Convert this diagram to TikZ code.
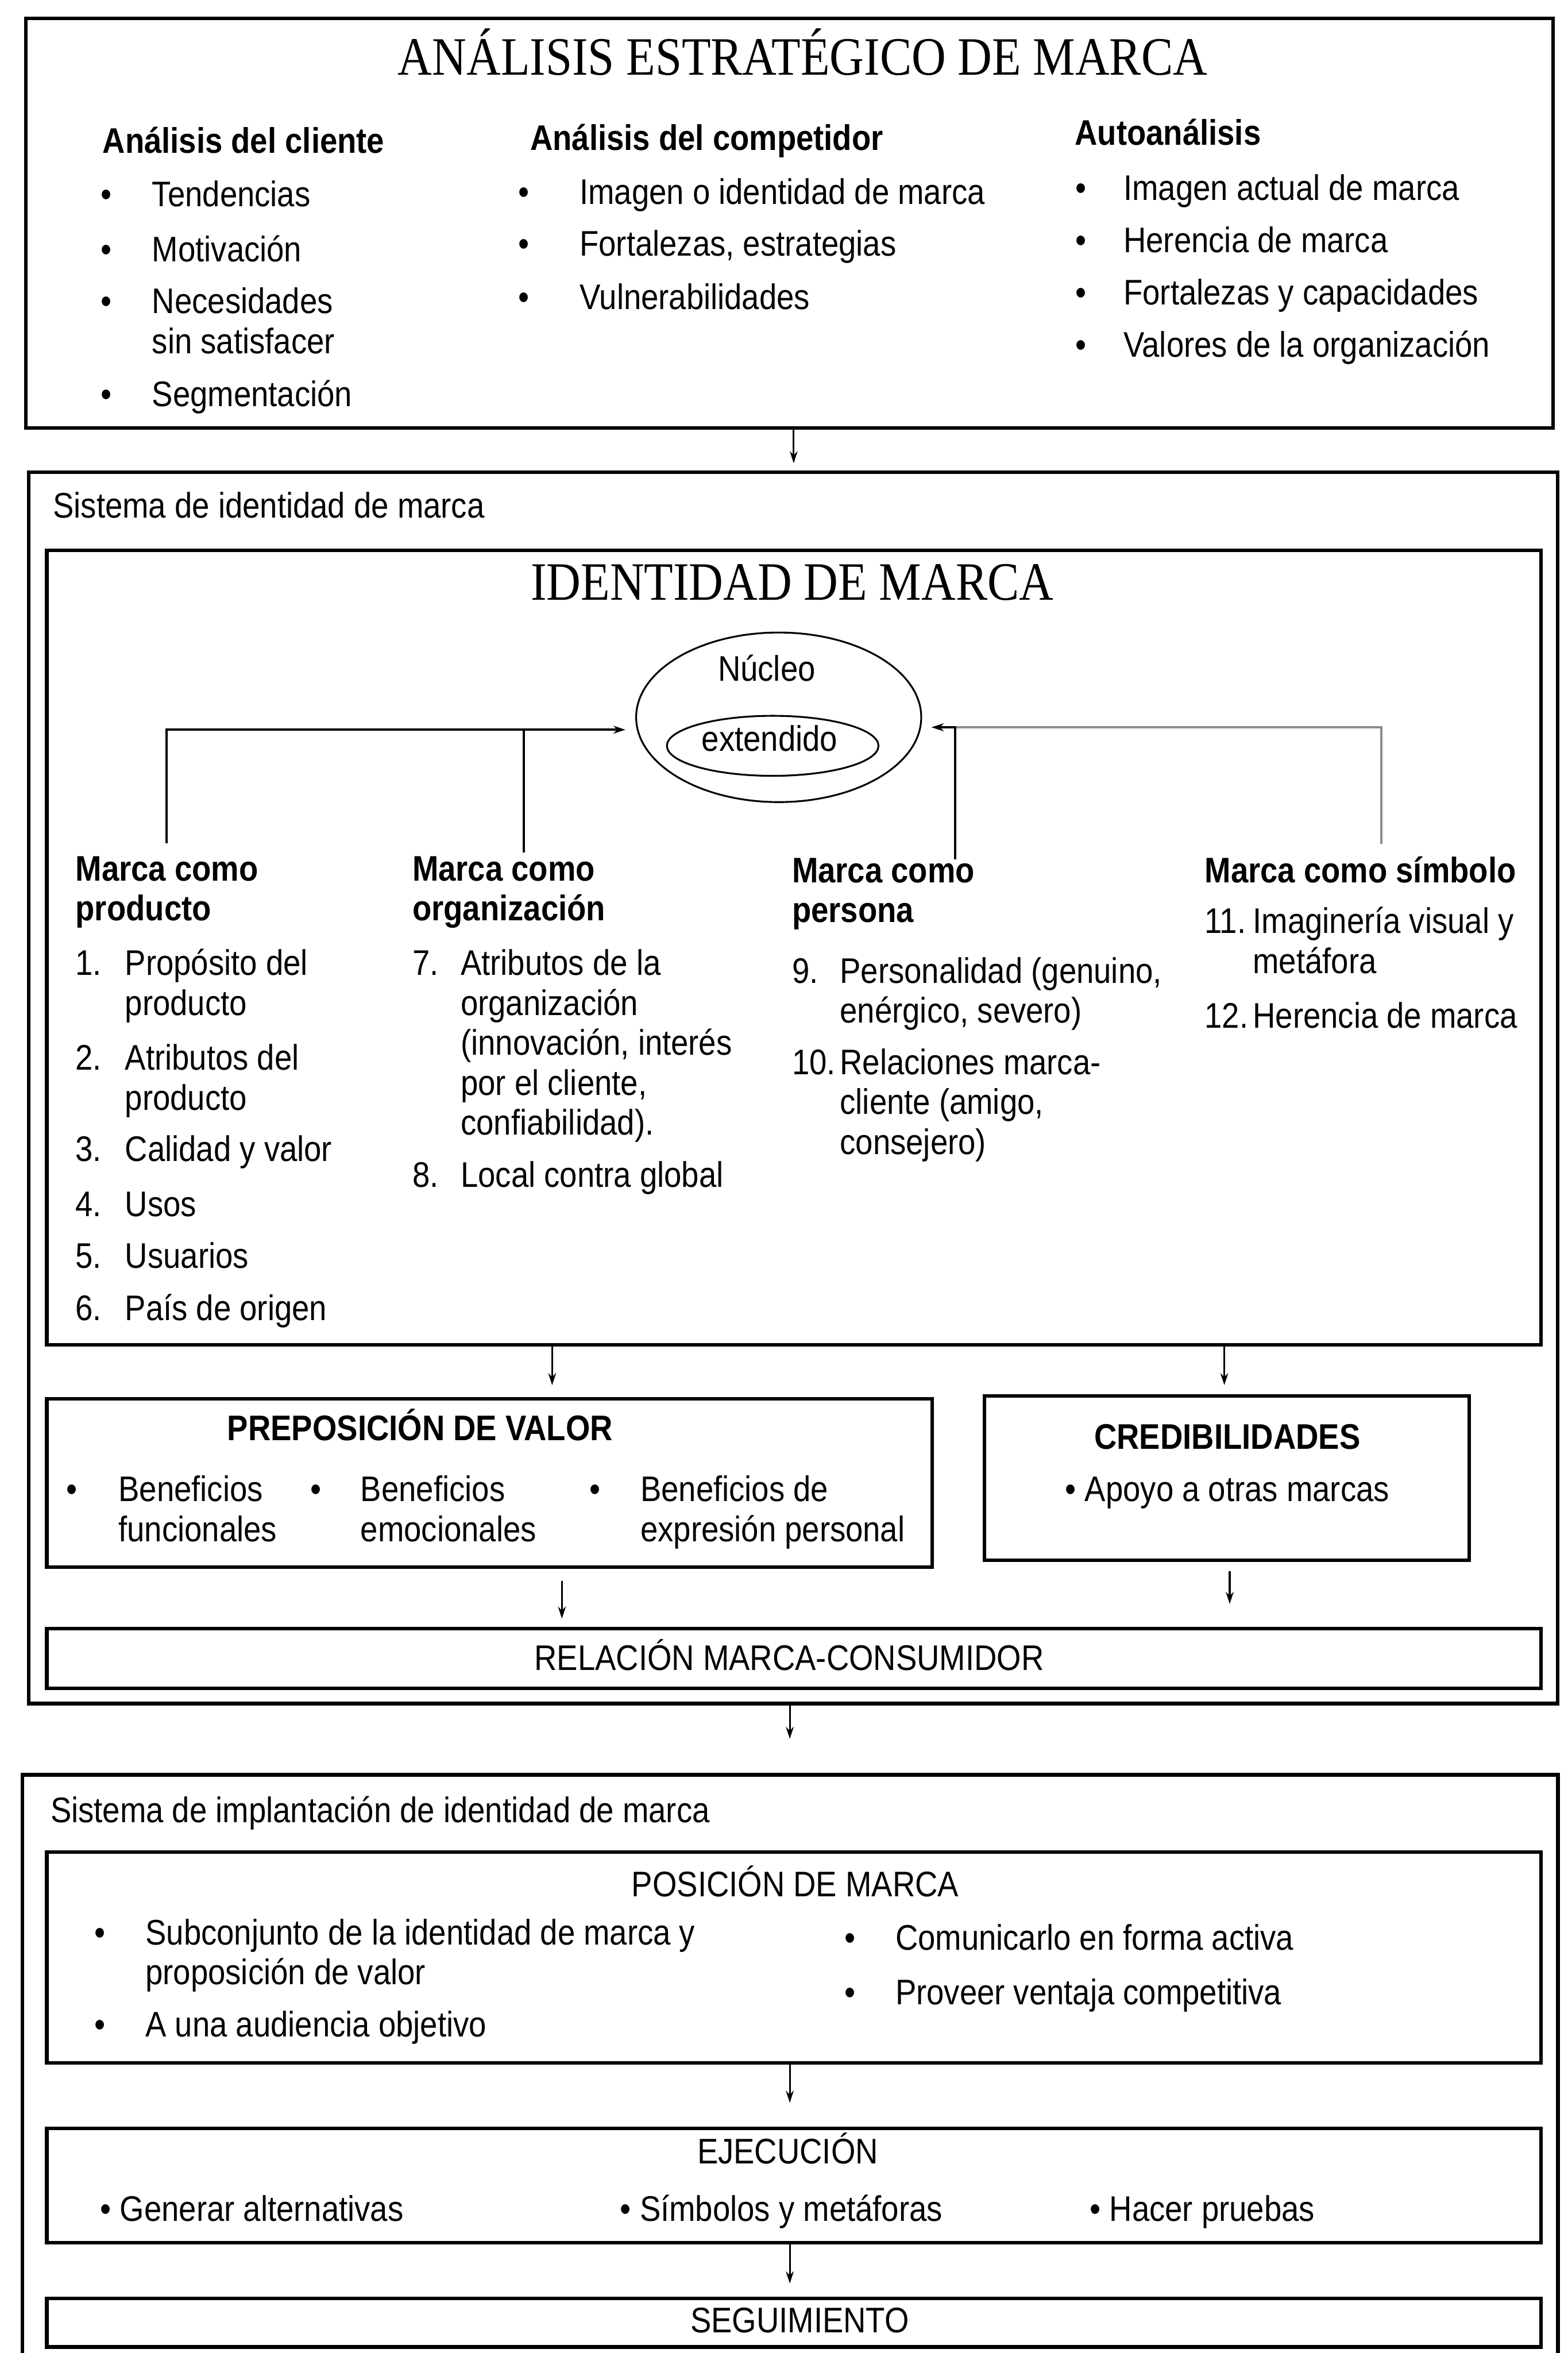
\documentclass[tikz,border=0pt]{standalone}
\usepackage{fontspec}
\setmainfont{Liberation Sans}[FakeStretch=0.88]
\newfontfamily\titlefont{Liberation Serif}[FakeStretch=0.88]
\usetikzlibrary{shapes.geometric,arrows.meta}
\newcommand\mlines[1]{\begin{tabular}[t]{@{}l@{}}#1\end{tabular}}
\begin{document}
\begin{tikzpicture}[x=0.5pt,y=-0.5pt,
  txt/.style={inner sep=0pt,anchor=base west,font=\fontsize{11.85}{13.3}\selectfont},
  txtc/.style={txt,anchor=base},
  bld/.style={txt,font=\fontsize{11.85}{13.3}\selectfont\bfseries},
  bldc/.style={bld,anchor=base},
  bul/.style={txt,anchor=base},
  ttl/.style={inner sep=0pt,anchor=base,font=\titlefont\fontsize{18}{20}\selectfont},
  box/.style={draw,line width=1.2pt,inner sep=0pt,anchor=north west},
  arr/.style={-{Stealth[length=4pt,width=2.6pt]},line width=0.6pt},
  link/.style={line width=0.8pt},
  elli/.style={ellipse,draw,line width=0.6pt,inner sep=0pt}
]
\useasboundingbox (0,0) rectangle (1045,1568);

% ---------- boxes ----------
\node[box,minimum width=509pt,minimum height=136.5pt] (b1) at (16,11) {};
\node[box,minimum width=509.5pt,minimum height=410.25pt] (b2) at (18,313.5) {};
\node[box,minimum width=498pt,minimum height=264.75pt] (ident) at (30,365.5) {};
\node[box,minimum width=295pt,minimum height=56pt] (prep) at (30,931) {};
\node[box,minimum width=161.5pt,minimum height=54.8pt] (cred) at (655,929) {};
\node[box,minimum width=498pt,minimum height=20pt] (rel) at (30,1084) {};
\node[box,draw=none,minimum width=510.5pt,minimum height=192.65pt] (b3) at (15,1182.7) {};
\draw[line width=1.2pt] (b3.south west) -- (b3.north west) -- (b3.north east) -- (b3.south east);
\node[box,minimum width=498pt,minimum height=70.2pt] (pos) at (30,1233) {};
\node[box,minimum width=498pt,minimum height=38.05pt] (ejec) at (30,1417.2) {};
\node[box,minimum width=498pt,minimum height=16.2pt] (seg) at (30,1530.4) {};

% ---------- box 1 ----------
\node[ttl] (t1) at (535,50) {ANÁLISIS ESTRATÉGICO DE MARCA};
\node[bld] (h11) at (68,102) {Análisis del cliente};
\node[bul] (u11) at (71,137.5) {•};
\node[txt] (i11) at (101,137.5) {Tendencias};
\node[bul] (u12) at (71,174.5) {•};
\node[txt] (i12) at (101,174.5) {Motivación};
\node[bul] (u13) at (71,209) {•};
\node[txt] (i13) at (101,209) {\mlines{Necesidades\\sin satisfacer}};
\node[bul] (u14) at (71,271) {•};
\node[txt] (i14) at (101,271) {Segmentación};

\node[bld] (h12) at (353,100) {Análisis del competidor};
\node[bul] (u21) at (349,136) {•};
\node[txt] (i21) at (386,136) {Imagen o identidad de marca};
\node[bul] (u22) at (349,170.5) {•};
\node[txt] (i22) at (386,170.5) {Fortalezas, estrategias};
\node[bul] (u23) at (349,206) {•};
\node[txt] (i23) at (386,206) {Vulnerabilidades};

\node[bld] (h13) at (716,96.6) {Autoanálisis};
\node[bul] (u31) at (720.5,133.5) {•};
\node[txt] (i31) at (748.5,133.5) {Imagen actual de marca};
\node[bul] (u32) at (720.5,168.4) {•};
\node[txt] (i32) at (748.5,168.4) {Herencia de marca};
\node[bul] (u33) at (720.5,203) {•};
\node[txt] (i33) at (748.5,203) {Fortalezas y capacidades};
\node[bul] (u34) at (720.5,238) {•};
\node[txt] (i34) at (748.5,238) {Valores de la organización};

% ---------- box 2 ----------
\node[txt] (l2) at (35,345) {Sistema de identidad de marca};
\node[ttl] (t2) at (528,400) {IDENTIDAD DE MARCA};
\node[elli,minimum width=95pt,minimum height=56.5pt] (nuc) at (519,478) {};
\node[elli,minimum width=70.5pt,minimum height=20pt] (ext) at (515,497) {};
\node[txtc] (tn) at (511,454) {Núcleo};
\node[txtc] (te) at (513,500.6) {extendido};

% column 1
\node[bld] (c1) at (50,587) {\mlines{Marca como\\producto}};
\node[txt] (n1) at (50,650) {1.};
\node[txt] (m1) at (83,650) {\mlines{Propósito del\\producto}};
\node[txt] (n2) at (50,713) {2.};
\node[txt] (m2) at (83,713) {\mlines{Atributos del\\producto}};
\node[txt] (n3) at (50,774) {3.};
\node[txt] (m3) at (83,774) {Calidad y valor};
\node[txt] (n4) at (50,810.6) {4.};
\node[txt] (m4) at (83,810.6) {Usos};
\node[txt] (n5) at (50,845) {5.};
\node[txt] (m5) at (83,845) {Usuarios};
\node[txt] (n6) at (50,880) {6.};
\node[txt] (m6) at (83,880) {País de origen};
% column 2
\node[bld] (c2) at (274.5,587) {\mlines{Marca como\\organización}};
\node[txt] (n7) at (274.5,650) {7.};
\node[txt] (m7) at (306.7,650) {\mlines{Atributos de la\\organización\\(innovación, interés\\por el cliente,\\confiabilidad).}};
\node[txt] (n8) at (274.5,791) {8.};
\node[txt] (m8) at (306.7,791) {Local contra global};
% column 3
\node[bld] (c3) at (527.5,588) {\mlines{Marca como\\persona}};
\node[txt] (n9) at (527.5,655) {9.};
\node[txt] (m9) at (559.5,655) {\mlines{Personalidad (genuino,\\enérgico, severo)}};
\node[txt] (n10) at (527.5,716) {10.};
\node[txt] (m10) at (559.5,716) {\mlines{Relaciones marca-\\cliente (amigo,\\consejero)}};
% column 4
\node[bld] (c4) at (802.6,588) {Marca como símbolo};
\node[txt] (n11) at (802.6,622) {11.};
\node[txt] (m11) at (834.7,622) {\mlines{Imaginería visual y\\metáfora}};
\node[txt] (n12) at (802.6,685) {12.};
\node[txt] (m12) at (834.7,685) {Herencia de marca};

% connectors into the core
\coordinate (p1) at (111,562);
\coordinate (p2) at (349,568);
\coordinate (p3) at (636.5,572.5);
\coordinate (p4) at (920.7,562.5);
\draw[link,black!45,-{Stealth[length=4pt,width=2.6pt]},shorten >=3.5pt] (p4) |- (nuc.-4);
\draw[link,-{Stealth[length=4pt,width=2.6pt]},shorten >=3.5pt] (p3) |- (nuc.-4);
\draw[link,-{Stealth[length=4pt,width=2.6pt]},shorten >=3.8pt] (p1) |- (nuc.185);
\draw[link] (p2) -- (p2 |- nuc.185);

% preposicion de valor
\node[bldc] (tp) at (280,960) {PREPOSICIÓN DE VALOR};
\node[bul] (v1) at (48,1000.6) {•};
\node[txt] (w1) at (78.6,1000.6) {\mlines{Beneficios\\funcionales}};
\node[bul] (v2) at (210.6,1000.6) {•};
\node[txt] (w2) at (240,1000.6) {\mlines{Beneficios\\emocionales}};
\node[bul] (v3) at (396.5,1000.6) {•};
\node[txt] (w3) at (426.5,1000.6) {\mlines{Beneficios de\\expresión personal}};
% credibilidades
\node[bldc] (tc) at (818,965.6) {CREDIBILIDADES};
\node[txtc] (wc) at (818,1000.6) {• Apoyo a otras marcas};
% relacion
\node[txtc] (tr) at (526,1113) {RELACIÓN MARCA-CONSUMIDOR};

% ---------- box 3 ----------
\node[txt] (l3) at (33.3,1214.4) {Sistema de implantación de identidad de marca};
\node[txtc] (tpos) at (530,1264) {POSICIÓN DE MARCA};
\node[bul] (q1) at (66.6,1296) {•};
\node[txt] (r1) at (96.6,1296) {\mlines{Subconjunto de la identidad de marca y\\proposición de valor}};
\node[bul] (q2) at (66.6,1357.4) {•};
\node[txt] (r2) at (96.6,1357.4) {A una audiencia objetivo};
\node[bul] (q3) at (566.4,1299.5) {•};
\node[txt] (r3) at (596.4,1299.5) {Comunicarlo en forma activa};
\node[bul] (q4) at (566.4,1335.8) {•};
\node[txt] (r4) at (596.4,1335.8) {Proveer ventaja competitiva};
\node[txtc] (tej) at (525,1442) {EJECUCIÓN};
\node[txt] (e1) at (66.5,1480.3) {• Generar alternativas};
\node[txt] (e2) at (413,1480.3) {• Símbolos y metáforas};
\node[txt] (e3) at (726,1480.3) {• Hacer pruebas};
\node[txtc] (tseg) at (533,1554.2) {SEGUIMIENTO};

% ---------- arrows between boxes ----------
\coordinate (xa1) at (529,0);
\coordinate (xa2) at (368,0);
\coordinate (xa3) at (816,0);
\coordinate (xa4) at (374.5,0);
\coordinate (xa5) at (819.6,0);
\coordinate (xa6) at (526.4,0);
\draw[arr,shorten >=2.4pt] (b1.south -| xa1) -- (b2.north -| xa1);
\draw[arr,shorten >=4pt] (ident.south -| xa2) -- (prep.north -| xa2);
\draw[arr,shorten >=3pt] (ident.south -| xa3) -- (cred.north -| xa3);
\draw[arr,shorten <=4pt,shorten >=2.7pt] (prep.south -| xa4) -- (rel.north -| xa4);
\draw[arr,shorten <=3pt,shorten >=7.6pt] (cred.south -| xa5) -- (rel.north -| xa5);
\draw[arr,shorten >=12pt] (b2.south -| xa6) -- (b3.north -| xa6);
\draw[arr,shorten >=8pt] (pos.south -| xa6) -- (ejec.north -| xa6);
\draw[arr,shorten >=4.4pt] (ejec.south -| xa6) -- (seg.north -| xa6);
\end{tikzpicture}
\end{document}
